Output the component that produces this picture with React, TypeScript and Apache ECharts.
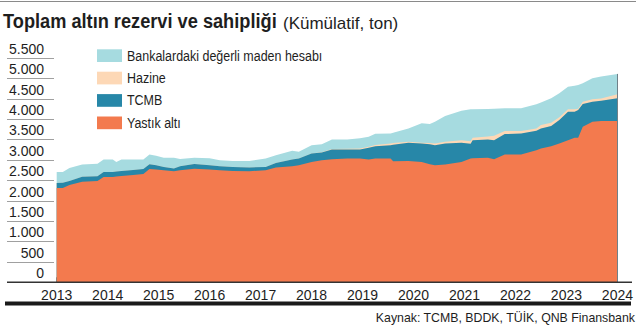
import React, { useEffect, useRef } from 'react';
import * as echarts from 'echarts';

const dates = [
  2013.0, 2013.12, 2013.25, 2013.5, 2013.8, 2013.92, 2014.1, 2014.17, 2014.27, 2014.5,
  2014.7, 2014.82, 2014.95, 2015.1, 2015.3, 2015.42, 2015.7, 2016.0, 2016.2, 2016.45,
  2016.78, 2017.1, 2017.3, 2017.62, 2017.75, 2018.0, 2018.2, 2018.4, 2018.7, 2018.95,
  2019.12, 2019.25, 2019.55, 2019.6, 2019.9, 2020.16, 2020.32, 2020.42, 2020.62, 2020.94,
  2021.12, 2021.16, 2021.46, 2021.58, 2021.79, 2022.11, 2022.41, 2022.5, 2022.7, 2022.86,
  2023.03, 2023.16, 2023.23, 2023.32, 2023.51, 2023.68, 2024.0,
];

const yastikAlti = [
  2310, 2310, 2380, 2465, 2482, 2580, 2580, 2590, 2604, 2630,
  2654, 2776, 2762, 2745, 2720, 2745, 2780, 2762, 2745, 2727,
  2720, 2745, 2810, 2843, 2867, 2948, 2990, 3015, 3032, 3032,
  3007, 3032, 3032, 2965, 2973, 2948, 2892, 2867, 2884, 2948,
  3032, 3040, 3047, 3015, 3130, 3130, 3236, 3277, 3334, 3400,
  3481, 3538, 3540, 3808, 3931, 3948, 3948,
];

const tcmb = [
  122, 130, 100, 120, 115, 123, 123, 125, 123, 120,
  122, 116, 105, 81, 66, 98, 115, 105, 98, 99,
  90, 81, 114, 164, 165, 207, 189, 238, 221, 221,
  285, 302, 327, 405, 442, 452, 488, 492, 516, 467,
  360, 441, 452, 466, 499, 516, 474, 492, 492, 573,
  696, 639, 678, 558, 492, 499, 558,
];

const hazine = [
  0, 0, 0, 0, 0, 0, 0, 0, 0, 0,
  0, 0, 0, 0, 0, 0, 0, 0, 0, 0,
  0, 0, 0, 0, 0, 0, 6, 12, 17, 24,
  25, 26, 41, 40, 25, 15, 30, 41, 40, 66,
  60, 60, 71, 109, 74, 57, 59, 81, 81, 66,
  59, 59, 32, 57, 58, 53, 98,
];

const bankalar = [
  270, 260, 320, 300, 303, 304, 304, 233, 280, 257,
  231, 238, 229, 221, 261, 179, 152, 173, 147, 147,
  163, 206, 189, 212, 163, 204, 198, 234, 229, 253,
  246, 277, 246, 250, 329, 477, 465, 531, 631, 720,
  784, 695, 673, 660, 557, 557, 590, 550, 599, 590,
  555, 580, 580, 452, 516, 537, 499,
];

const yTicks = [0, 500, 1000, 1500, 2000, 2500, 3000, 3500, 4000, 4500, 5000, 5500];

const NAMES = ['Bankalardaki değerli maden hesabı', 'Hazine', 'TCMB', 'Yastık altı'];
const COLORS: Record<string, string> = {
  'Bankalardaki değerli maden hesabı': '#a6dbe0',
  Hazine: '#fdd8b6',
  TCMB: '#2787a8',
  'Yastık altı': '#f37a4e',
};

const TITLE = 'Toplam altın rezervi ve sahipliği';
const SUBTITLE = '(Kümülatif, ton)';
const SOURCE = 'Kaynak: TCMB, BDDK, TÜİK, QNB Finansbank';

const SANS = '"Liberation Sans", Arial, sans-serif';
const TEXT = '#1e1e1e';

const fmtThousands = (v: number) => String(v).replace(/\B(?=(\d{3})+(?!\d))/g, '.');

// stacked layers (bottom to top), cumulative tops built from the series arrays
const layers: [string, number[]][] = [
  ['Yastık altı', yastikAlti],
  ['TCMB', tcmb],
  ['Hazine', hazine],
  ['Bankalardaki değerli maden hesabı', bankalar],
];

export default function App() {
  const ref = useRef<HTMLDivElement>(null);
  useEffect(() => {
    if (!ref.current) return;
    const chart = echarts.init(ref.current, undefined, { renderer: 'svg' });

    const running = dates.map(() => 0);
    const cumulative = layers.map(([name, vals]) => {
      const tops = vals.map((v, i) => (running[i] += v));
      return { name, tops };
    });
    const lastIdx = dates.length - 1;
    // draw the top layer first so that lower layers paint over it
    const series = cumulative
      .slice()
      .reverse()
      .map(({ name, tops }, k) => ({
        name,
        type: 'line',
        data: dates.map((d, i) => [d, tops[i]]),
        symbol: 'none',
        showSymbol: false,
        lineStyle: { width: 0, opacity: 0 },
        areaStyle: { color: COLORS[name], opacity: 1, origin: 'start' },
        itemStyle: { color: COLORS[name] },
        silent: true,
        ...(k === 0
          ? {
              markLine: {
                silent: true,
                symbol: 'none',
                label: { show: false },
                lineStyle: { color: '#6f8088', width: 1, type: 'solid' },
                data: [
                  [
                    { coord: [dates[lastIdx], 0] },
                    { coord: [dates[lastIdx], tops[lastIdx]] },
                  ],
                ],
              },
            }
          : {}),
      }));

    chart.setOption({
      animation: false,
      grid: { left: 56.7, right: 16, top: 57.7, bottom: 47.7 },
      xAxis: {
        type: 'value',
        min: 2013,
        max: 2024,
        interval: 1,
        axisLine: { show: false },
        axisTick: { show: true, inside: true, length: 5, lineStyle: { color: '#333', width: 1 } },
        axisLabel: {
          margin: 6,
          fontFamily: SANS,
          fontSize: 14,
          color: TEXT,
          formatter: (v: number) => String(v),
        },
        splitLine: { show: false },
      },
      yAxis: {
        type: 'value',
        min: 0,
        max: 5500,
        interval: 500,
        axisLine: { show: false },
        axisTick: { show: false },
        splitLine: { show: false },
        axisLabel: {
          margin: 12.7,
          verticalAlign: 'bottom',
          padding: [0, 0, 2, 0],
          fontFamily: SANS,
          fontSize: 14,
          color: TEXT,
          formatter: (v: number) => fmtThousands(v),
        },
      },
      series,
    });

    const y0 = chart.convertToPixel({ yAxisIndex: 0 }, 0) as number;
    const underlines = yTicks
      .filter((v) => v > 0)
      .map((v) => {
        const y = Math.round(chart.convertToPixel({ yAxisIndex: 0 }, v) as number) + 0.5;
        return {
          type: 'line',
          shape: { x1: 7, y1: y, x2: 54, y2: y },
          style: { stroke: '#a0a0a0', lineWidth: 1 },
          z: 10,
        };
      });
    const legendItems: any[] = [];
    NAMES.forEach((name, i) => {
      const top = 49.3 + i * 22.4;
      legendItems.push({
        type: 'rect',
        shape: { x: 97, y: top, width: 25, height: 12.7 },
        style: { fill: COLORS[name] },
        z: 20,
      });
      legendItems.push({
        type: 'text',
        x: 127,
        y: top + 6.6,
        scaleX: 0.89,
        style: { text: name, font: `14px ${SANS}`, fill: TEXT, verticalAlign: 'middle' },
        z: 20,
      });
    });

    chart.setOption({
      graphic: [
        { type: 'line', shape: { x1: 0, y1: 1.5, x2: 636, y2: 1.5 }, style: { stroke: '#8a8a8a', lineWidth: 1 } },
        {
          type: 'text',
          x: 3,
          y: 21,
          scaleX: 0.867,
          style: { text: TITLE, font: `bold 21px ${SANS}`, fill: TEXT, verticalAlign: 'middle' },
        },
        {
          type: 'text',
          x: 283,
          y: 23,
          style: { text: SUBTITLE, font: `17px ${SANS}`, fill: TEXT, verticalAlign: 'middle' },
        },
        ...legendItems,
        ...underlines,
        {
          type: 'line',
          shape: { x1: 7, y1: y0, x2: 632, y2: y0 },
          style: { stroke: '#333', lineWidth: 1.5 },
          z: 10,
        },
        { type: 'rect', shape: { x: 5, y: 301.5, width: 626, height: 4 }, style: { fill: '#1a1a1a' } },
        {
          type: 'text',
          x: 635,
          y: 318,
          scaleX: 0.95,
          style: { text: SOURCE, font: `13px ${SANS}`, fill: TEXT, align: 'right', verticalAlign: 'middle' },
        },
      ],
    });
    return () => chart.dispose();
  }, []);
  return (
    <div
      ref={ref}
      style={{ position: 'absolute', left: 0, top: 0, width: 636, height: 330, background: '#fff' }}
    />
  );
}
